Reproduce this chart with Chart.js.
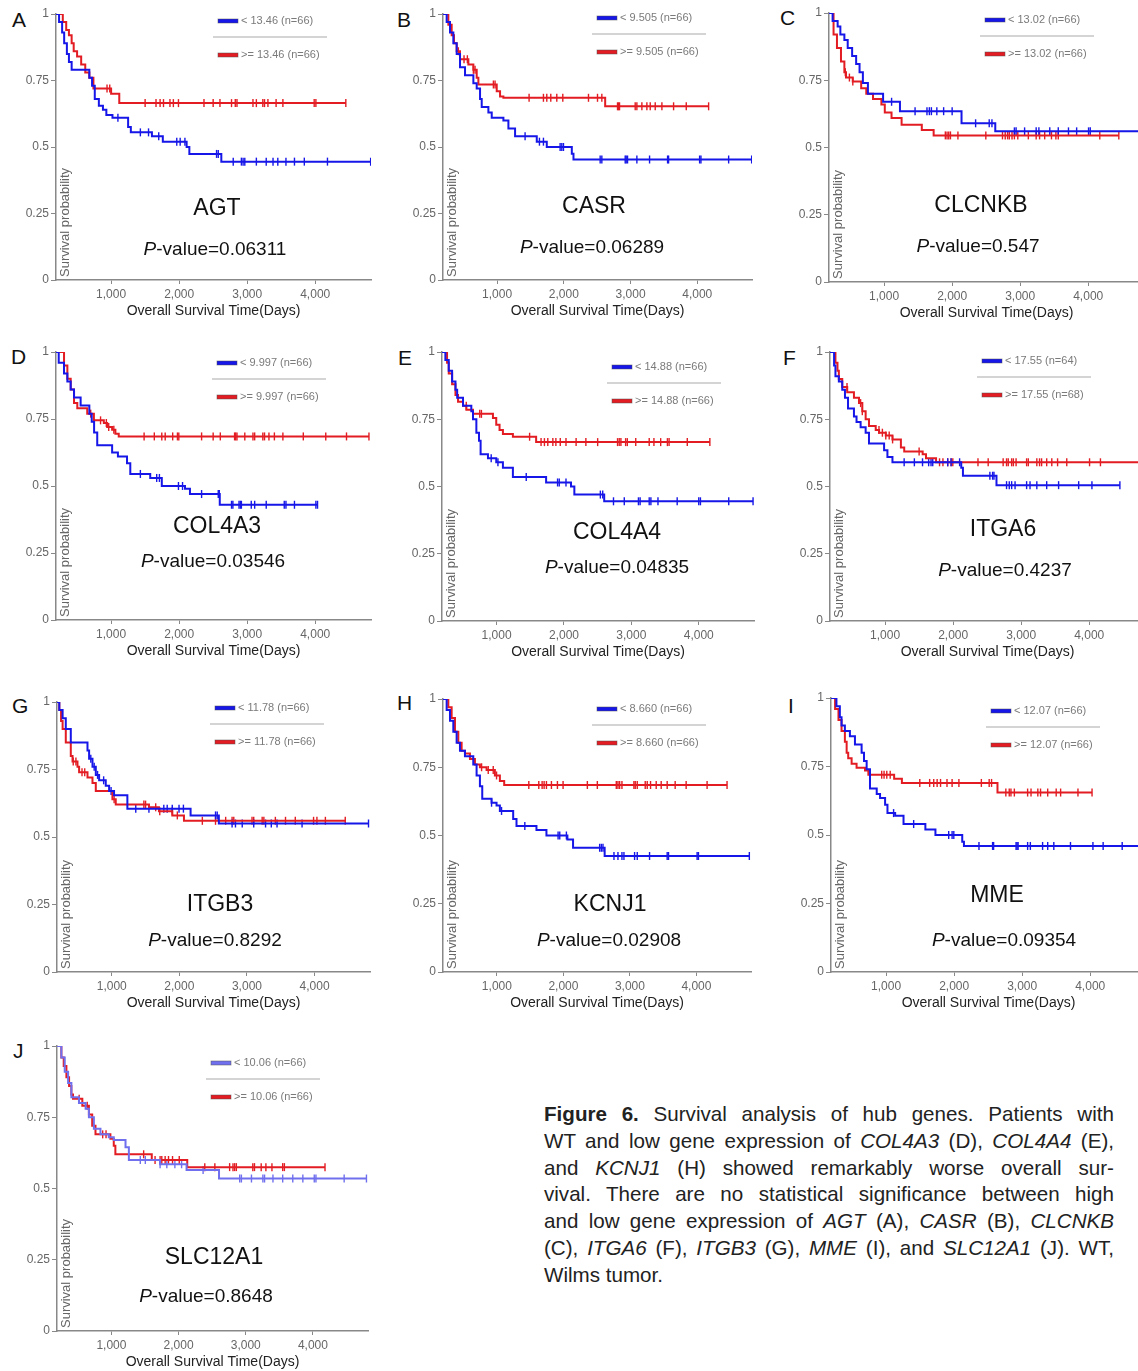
<!DOCTYPE html>
<html>
<head>
<meta charset="utf-8">
<script src="https://cdn.jsdelivr.net/npm/chart.js@4.4.1/dist/chart.umd.min.js"></script>
<style>
  html, body { margin: 0; padding: 0; background: #fff; width: 1138px; height: 1371px; overflow: hidden; position: relative; font-family: "Liberation Sans", Arial, sans-serif; }
  canvas { position: absolute; }
  .tag { position: absolute; font-size: 21px; line-height: 1; color: #111; }
  #caption { position: absolute; left: 544px; top: 1101px; width: 570px; font-size: 20.6px; line-height: 26.8px; color: #222; }
  #caption .ln { white-space: nowrap; text-align: justify; text-align-last: justify; }
  #caption .ln.last { text-align-last: left; }
</style>
</head>
<body>
<div id="caption">
  <div class="ln"><b>Figure 6.</b> Survival analysis of hub genes. Patients with</div>
  <div class="ln">WT and low gene expression of <i>COL4A3</i> (D), <i>COL4A4</i> (E),</div>
  <div class="ln">and <i>KCNJ1</i> (H) showed remarkably worse overall sur-</div>
  <div class="ln">vival. There are no statistical significance between high</div>
  <div class="ln">and low gene expression of <i>AGT</i> (A), <i>CASR</i> (B), <i>CLCNKB</i></div>
  <div class="ln">(C), <i>ITGA6</i> (F), <i>ITGB3</i> (G), <i>MME</i> (I), and <i>SLC12A1</i> (J). WT,</div>
  <div class="ln last">Wilms tumor.</div>
</div>
<script>
Chart.defaults.font.family = '"Liberation Sans", Arial, sans-serif';

// axis ticks and range (days / probability)
const xTicks = [1000, 2000, 3000, 4000];
const yTicks = [0, 0.25, 0.5, 0.75, 1];
const X_MIN = 190, X_MAX = 4820;

const genes = ['AGT', 'CASR', 'CLCNKB', 'COL4A3', 'COL4A4', 'ITGA6', 'ITGB3', 'KCNJ1', 'MME', 'SLC12A1'];
const pValues = ['0.06311', '0.06289', '0.547', '0.03546', '0.04835', '0.4237', '0.8292', '0.02908', '0.09354', '0.8648'];
const cutoffs = ['13.46', '9.505', '13.02', '9.997', '14.88', '17.55', '11.78', '8.660', '12.07', '10.06'];
const nLow = [66, 66, 66, 66, 66, 64, 66, 66, 66, 66];
const nHigh = [66, 66, 66, 66, 66, 68, 66, 66, 66, 66];

// Kaplan-Meier curves: [day, survival] where survival drops at that day
const agtLow = [[190,1],[235,0.97],[280,0.93],[310,0.89],[350,0.85],[380,0.82],[420,0.79],[680,0.76],[720,0.73],[760,0.68],[820,0.655],[880,0.64],[930,0.62],[1020,0.61],[1250,0.575],[1290,0.555],[1600,0.54],[1760,0.52],[2110,0.50],[2150,0.474],[2620,0.445],[4820,0.445]];
const agtLowCens = [1100,1430,1550,1700,1965,2015,2085,2550,2575,2795,2915,2940,2965,3135,3280,3380,3450,3570,3695,3840,4180,4815];
const agtHigh = [[190,1],[290,0.97],[340,0.94],[380,0.92],[420,0.89],[450,0.86],[500,0.84],[560,0.81],[620,0.78],[680,0.76],[740,0.72],[1000,0.70],[1120,0.665],[4450,0.665]];
const agtHighCens = [940,980,1500,1660,1720,1770,1865,1915,1990,2365,2500,2600,2770,2825,2850,3085,3135,3230,3255,3305,3425,3525,3985,4010,4450];

const casrLow = [[190,1],[245,0.97],[295,0.93],[345,0.89],[395,0.85],[445,0.80],[520,0.77],[645,0.74],[695,0.72],[745,0.68],[770,0.65],[870,0.63],[920,0.61],[1095,0.60],[1170,0.57],[1270,0.54],[1595,0.52],[1745,0.50],[2120,0.475],[2145,0.453],[4820,0.453]];
const casrLowCens = [1420,1635,1695,1945,1970,1995,2545,2570,2920,2935,2955,3095,3285,3555,3570,4035,4055,4470,4815];
const casrHigh = [[190,1],[270,0.96],[320,0.92],[355,0.89],[395,0.86],[445,0.83],[570,0.81],[645,0.79],[695,0.76],[720,0.735],[995,0.71],[1045,0.69],[1095,0.685],[2620,0.653],[4170,0.653]];
const casrHighCens = [420,505,555,645,670,945,970,1480,1695,1745,1805,1895,1985,2370,2505,2570,2805,2820,2835,3070,3095,3170,3245,3295,3370,3470,3645,3835,4170];

const clcnkbLow = [[190,1],[243,0.97],[317,0.95],[357,0.92],[416,0.90],[465,0.87],[530,0.84],[589,0.81],[639,0.78],[688,0.74],[762,0.70],[985,0.67],[1233,0.635],[2138,0.59],[2634,0.56],[4820,0.56]];
const clcnkbLowCens = [1110,1455,1630,1665,1695,1775,1875,2000,2345,2545,2585,2915,2940,3065,3235,3275,3435,3560,3710,3830,4005,4030];
const clcnkbHigh = [[190,1],[257,0.92],[307,0.87],[366,0.82],[416,0.78],[440,0.76],[539,0.745],[663,0.72],[738,0.70],[837,0.68],[960,0.66],[1010,0.63],[1109,0.61],[1257,0.585],[1554,0.565],[1728,0.545],[4450,0.545]];
const clcnkbHighCens = [430,490,540,1900,1925,1950,1975,2085,2495,2740,2780,2815,2840,2880,2915,2965,3120,3235,3285,3360,3460,3525,3560,4170,4450];

const col4a3Low = [[190,1],[230,0.96],[308,0.92],[357,0.89],[406,0.86],[455,0.83],[552,0.80],[680,0.77],[715,0.74],[750,0.70],[796,0.652],[1015,0.625],[1100,0.61],[1234,0.585],[1282,0.545],[1575,0.53],[1745,0.50],[2086,0.49],[2159,0.47],[2597,0.43],[4034,0.43]];
const col4a3LowCens = [1430,1670,1710,1990,2050,2330,2575,2590,2770,2790,2880,2900,2915,3060,3110,3280,3545,3570,3695,4010,4034];
const col4a3High = [[190,1],[308,0.95],[357,0.90],[406,0.86],[455,0.81],[503,0.79],[649,0.77],[747,0.745],[893,0.735],[942,0.72],[1015,0.71],[1063,0.695],[1112,0.685],[4790,0.685]];
const col4a3HighCens = [700,845,930,965,1040,1485,1635,1745,1795,1905,1975,1995,2330,2500,2605,2815,2830,2850,2965,3085,3110,3230,3255,3320,3400,3525,3825,4155,4460,4790];

const col4a4Low = [[190,1],[240,0.97],[290,0.93],[340,0.89],[390,0.86],[415,0.83],[502,0.80],[625,0.78],[650,0.75],[700,0.70],[739,0.67],[763,0.62],[872,0.605],[995,0.59],[1094,0.57],[1242,0.535],[1735,0.515],[2104,0.50],[2154,0.47],[2597,0.445],[4806,0.445]];
const col4a4LowCens = [920,1020,1440,1905,1930,2030,2540,2575,2735,2895,3105,3130,3265,3290,3395,3680,4000,4025,4445,4806];
const col4a4High = [[190,1],[265,0.96],[290,0.92],[340,0.88],[390,0.84],[428,0.815],[502,0.80],[552,0.785],[650,0.77],[946,0.755],[995,0.73],[1044,0.71],[1094,0.695],[1242,0.685],[1587,0.665],[4165,0.665]];
const col4a4HighCens = [550,750,775,1490,1660,1710,1760,1835,1880,1945,2030,2180,2325,2500,2795,2820,2845,2915,2940,3065,3265,3335,3435,3535,3560,3830,4165];

const itga6Low = [[190,1],[250,0.95],[270,0.91],[320,0.89],[370,0.86],[410,0.83],[455,0.79],[542,0.76],[580,0.74],[640,0.72],[714,0.70],[763,0.66],[985,0.635],[1034,0.61],[1108,0.59],[2119,0.57],[2144,0.54],[2637,0.505],[4451,0.505]];
const itga6LowCens = [1280,1430,1550,1640,1675,1700,1920,1970,2095,2540,2580,2600,2785,2825,2860,2910,3080,3130,3230,3375,3550,3845,4040,4451];
const itga6High = [[190,1],[270,0.96],[300,0.93],[320,0.90],[370,0.87],[443,0.85],[542,0.83],[616,0.81],[665,0.78],[714,0.75],[763,0.725],[862,0.71],[911,0.70],[1010,0.69],[1108,0.675],[1232,0.645],[1281,0.63],[1552,0.62],[1601,0.605],[1749,0.59],[4820,0.59]];
const itga6HighCens = [440,640,665,910,960,1010,1060,1110,1500,1800,1850,1920,1970,1995,2365,2515,2735,2785,2810,2860,2885,2925,3080,3105,3230,3270,3300,3375,3450,3535,3670,4005,4165];

const itgb3Low = [[190,1],[224,0.97],[273,0.94],[320,0.90],[394,0.85],[641,0.82],[665,0.79],[715,0.76],[764,0.73],[813,0.71],[911,0.69],[961,0.67],[1034,0.655],[1231,0.605],[2166,0.58],[2584,0.55],[4798,0.55]];
const itgb3LowCens = [690,740,790,880,990,1355,1550,1770,1820,1895,1995,2060,2535,2560,2780,2830,2930,3100,3275,3360,3445,3815,4798];
const itgb3High = [[190,1],[224,0.97],[250,0.93],[273,0.90],[320,0.85],[394,0.80],[420,0.78],[493,0.76],[517,0.74],[641,0.72],[715,0.70],[764,0.67],[1010,0.64],[1059,0.62],[1551,0.61],[1698,0.595],[1896,0.58],[2068,0.56],[4454,0.56]];
const itgb3HighCens = [430,470,560,600,1035,1475,1500,1650,1710,1895,1970,2340,2535,2685,2780,2805,3075,3100,3225,3250,3420,3570,3715,3985,4035,4160,4454];

const kcnj1Low = [[190,1],[245,0.96],[295,0.92],[345,0.88],[395,0.84],[445,0.81],[520,0.79],[645,0.76],[695,0.72],[745,0.68],[780,0.635],[920,0.62],[995,0.61],[1045,0.59],[1245,0.56],[1295,0.535],[1595,0.52],[1745,0.50],[2060,0.485],[2145,0.455],[2620,0.425],[4795,0.425]];
const kcnj1LowCens = [920,1070,1420,1920,1945,2045,2545,2570,2595,2760,2820,2880,2910,3070,3110,3295,3560,3580,4010,4030,4795];
const kcnj1High = [[190,1],[270,0.97],[320,0.93],[370,0.88],[420,0.84],[470,0.81],[520,0.80],[595,0.78],[670,0.76],[745,0.75],[845,0.74],[970,0.72],[1045,0.70],[1110,0.685],[4460,0.685]];
const kcnj1HighCens = [770,870,945,995,1480,1630,1680,1710,1745,1820,1910,1995,2360,2510,2795,2820,2845,2880,3060,3080,3110,3230,3260,3310,3395,3470,3560,3680,3845,4160,4460];

const mmeLow = [[190,1],[270,0.97],[320,0.93],[345,0.90],[394,0.88],[468,0.86],[542,0.83],[640,0.80],[675,0.77],[714,0.74],[763,0.67],[862,0.65],[911,0.635],[985,0.61],[1020,0.58],[1133,0.57],[1256,0.54],[1577,0.52],[1725,0.50],[2119,0.475],[2144,0.46],[4820,0.46]];
const mmeLowCens = [1110,1405,1920,1970,1995,2365,2565,2580,2910,2925,2940,3080,3120,3300,3375,3465,3710,4040,4190,4470];
const mmeHigh = [[190,1],[250,0.96],[300,0.92],[345,0.88],[394,0.84],[420,0.80],[443,0.78],[493,0.76],[566,0.745],[690,0.735],[739,0.72],[1118,0.705],[1232,0.69],[2637,0.655],[4027,0.655]];
const mmeHighCens = [935,970,1010,1060,1495,1640,1700,1750,1800,1895,1970,2070,2400,2515,2550,2760,2810,2835,2885,3080,3130,3230,3270,3375,3500,3565,3820,4027];

const slc12a1Low = [[190,1],[255,0.96],[305,0.91],[355,0.87],[404,0.82],[517,0.80],[616,0.78],[665,0.75],[739,0.71],[837,0.69],[961,0.68],[1035,0.67],[1210,0.645],[1260,0.60],[1725,0.585],[2119,0.565],[2602,0.535],[4797,0.535]];
const slc12a1LowCens = [1430,1505,1725,1825,1945,2045,2365,2910,2935,3085,3255,3280,3405,3550,3700,3850,4020,4045,4465,4797];
const slc12a1High = [[190,1],[255,0.96],[290,0.93],[330,0.89],[370,0.86],[404,0.83],[428,0.815],[567,0.79],[665,0.76],[714,0.72],[763,0.69],[985,0.675],[1035,0.65],[1059,0.62],[1601,0.60],[2129,0.575],[4180,0.575]];
const slc12a1HighCens = [520,640,870,920,1480,1650,1725,1750,1800,1850,1910,2010,2390,2540,2760,2810,2835,2860,3105,3130,3230,3300,3390,3550,3575,4180];

const lowCurves = [agtLow, casrLow, clcnkbLow, col4a3Low, col4a4Low, itga6Low, itgb3Low, kcnj1Low, mmeLow, slc12a1Low];
const lowCens = [agtLowCens, casrLowCens, clcnkbLowCens, col4a3LowCens, col4a4LowCens, itga6LowCens, itgb3LowCens, kcnj1LowCens, mmeLowCens, slc12a1LowCens];
const highCurves = [agtHigh, casrHigh, clcnkbHigh, col4a3High, col4a4High, itga6High, itgb3High, kcnj1High, mmeHigh, slc12a1High];
const highCens = [agtHighCens, casrHighCens, clcnkbHighCens, col4a3HighCens, col4a4HighCens, itga6HighCens, itgb3HighCens, kcnj1HighCens, mmeHighCens, slc12a1HighCens];

// page layout: plot box (px) and label offsets relative to plot box
const panels = [
  {letter: 'A', tag: [12, 9],    L: 56,  T: 14,   R: 371,  B: 280,  leg: [162, 7],  gene: [161, 195], pv: [159, 236]},
  {letter: 'B', tag: [397, 9],   L: 443, T: 14,   R: 752,  B: 280,  leg: [154, 4],  gene: [151, 193], pv: [149, 234]},
  {letter: 'C', tag: [780, 7],   L: 829, T: 13,   R: 1144, B: 282,  leg: [156, 7],  gene: [152, 193], pv: [149, 234]},
  {letter: 'D', tag: [11, 346],  L: 56,  T: 352,  R: 371,  B: 620,  leg: [161, 11], gene: [161, 175], pv: [157, 210]},
  {letter: 'E', tag: [398, 347], L: 442, T: 352,  R: 754,  B: 621,  leg: [170, 15], gene: [175, 181], pv: [175, 216]},
  {letter: 'F', tag: [783, 347], L: 830, T: 352,  R: 1145, B: 621,  leg: [152, 9],  gene: [173, 178], pv: [175, 219]},
  {letter: 'G', tag: [12, 695],  L: 57,  T: 702,  R: 370,  B: 972,  leg: [158, 6],  gene: [163, 203], pv: [158, 239]},
  {letter: 'H', tag: [397, 692], L: 443, T: 699,  R: 751,  B: 972,  leg: [154, 10], gene: [167, 206], pv: [166, 242]},
  {letter: 'I', tag: [788, 695], L: 831, T: 698,  R: 1146, B: 972,  leg: [160, 13], gene: [166, 198], pv: [173, 243]},
  {letter: 'J', tag: [13, 1040], L: 57,  T: 1046, R: 368,  B: 1331, leg: [154, 17], gene: [157, 212], pv: [149, 251]}
];

const BLUE = 'rgb(22,22,232)';
const BLUE_LIGHT = 'rgb(112,112,238)';
const RED = 'rgb(226,28,34)';

function survAt(curve, t) {
  let s = curve[0][1];
  for (const [ti, si] of curve) {
    if (ti <= t) s = si; else break;
  }
  return s;
}

const kmText = {
  id: 'kmText',
  afterDatasetsDraw(chart, args, o) {
    const {ctx, chartArea: a} = chart;
    ctx.save();
    // y axis label, inside the plot
    ctx.save();
    ctx.translate(a.left + 9, a.bottom - 3);
    ctx.rotate(-Math.PI / 2);
    ctx.font = '13px "Liberation Sans"';
    ctx.fillStyle = '#666';
    ctx.textAlign = 'left';
    ctx.textBaseline = 'middle';
    ctx.fillText('Survival probability', 0, 0);
    ctx.restore();

    // gene name
    ctx.fillStyle = '#111';
    ctx.textAlign = 'center';
    ctx.textBaseline = 'middle';
    ctx.font = '23px "Liberation Sans"';
    ctx.fillText(o.gene, a.left + o.genePos[0], a.top + o.genePos[1]);

    // P-value with italic P
    const fi = 'italic 19px "Liberation Sans"', fn = '19px "Liberation Sans"';
    const rest = '-value=' + o.p;
    ctx.font = fi; const w1 = ctx.measureText('P').width;
    ctx.font = fn; const w2 = ctx.measureText(rest).width;
    let x0 = a.left + o.pvPos[0] - (w1 + w2) / 2;
    const py = a.top + o.pvPos[1];
    ctx.textAlign = 'left';
    ctx.font = fi; ctx.fillText('P', x0, py);
    ctx.font = fn; ctx.fillText(rest, x0 + w1, py);

    // legend
    const lx = a.left + o.leg[0], ly = a.top + o.leg[1];
    const rows = [[o.lowColor, '< ' + o.cut + ' (n=' + o.nLow + ')', ly], [RED, '>= ' + o.cut + ' (n=' + o.nHigh + ')', ly + 34]];
    ctx.strokeStyle = '#d4d4d4';
    ctx.lineWidth = 2;
    ctx.beginPath();
    ctx.moveTo(lx - 5, ly + 16);
    ctx.lineTo(lx + 109, ly + 16);
    ctx.stroke();
    ctx.font = '11px "Liberation Sans"';
    ctx.textBaseline = 'middle';
    for (const [col, txt, y] of rows) {
      ctx.fillStyle = col;
      ctx.fillRect(lx, y - 2, 20, 4);
      ctx.strokeStyle = 'rgba(80,80,80,0.6)';
      ctx.lineWidth = 0.8;
      ctx.strokeRect(lx, y - 2, 20, 4);
      ctx.fillStyle = '#7a7a7a';
      ctx.fillText(txt, lx + 23, y);
    }
    ctx.restore();
  }
};

panels.forEach((p, i) => {
  const tag = document.createElement('div');
  tag.className = 'tag';
  tag.textContent = p.letter;
  tag.style.left = p.tag[0] + 'px';
  tag.style.top = p.tag[1] + 'px';
  document.body.appendChild(tag);

  const padTop = 14, axisW = 56, axisH = 50, padRight = 8;
  const cv = document.createElement('canvas');
  cv.width = p.R - p.L + axisW + padRight;
  cv.height = p.B - p.T + padTop + axisH;
  cv.style.left = (p.L - axisW) + 'px';
  cv.style.top = (p.T - padTop) + 'px';
  document.body.appendChild(cv);

  const lowColor = i === 9 ? BLUE_LIGHT : BLUE;
  const low = lowCurves[i], high = highCurves[i];

  new Chart(cv, {
    type: 'line',
    data: {
      datasets: [
        {data: low.map(([x, y]) => ({x, y})), borderColor: lowColor, borderWidth: 2, stepped: true, pointRadius: 0, fill: false},
        {data: high.map(([x, y]) => ({x, y})), borderColor: RED, borderWidth: 2, stepped: true, pointRadius: 0, fill: false},
        {data: lowCens[i].map(t => ({x: t, y: survAt(low, t)})), showLine: false, pointStyle: 'line', rotation: 90, pointRadius: 4, borderColor: lowColor, borderWidth: 1.4},
        {data: highCens[i].map(t => ({x: t, y: survAt(high, t)})), showLine: false, pointStyle: 'line', rotation: 90, pointRadius: 4, borderColor: RED, borderWidth: 1.4}
      ]
    },
    options: {
      responsive: false,
      animation: false,
      events: [],
      layout: {padding: {top: padTop, right: padRight, left: 0, bottom: 0}},
      plugins: {
        legend: {display: false},
        tooltip: {enabled: false},
        kmText: {gene: genes[i], p: pValues[i], cut: cutoffs[i], nLow: nLow[i], nHigh: nHigh[i],
                 lowColor: lowColor, leg: p.leg, genePos: p.gene, pvPos: p.pv}
      },
      scales: {
        x: {
          type: 'linear', min: X_MIN, max: X_MAX,
          afterFit(s) { s.height = axisH; },
          afterBuildTicks(s) { s.ticks = xTicks.map(v => ({value: v})); },
          ticks: {color: '#666', font: {size: 12}, padding: 3, maxRotation: 0,
                  callback: v => v.toLocaleString('en-US')},
          grid: {drawOnChartArea: false, tickLength: 4, color: '#888'},
          border: {color: '#888', width: 1.5},
          title: {display: true, text: 'Overall Survival Time(Days)', color: '#222',
                  font: {size: 14}, padding: {top: 0, bottom: 10}}
        },
        y: {
          min: 0, max: 1,
          afterFit(s) { s.width = axisW; },
          afterBuildTicks(s) { s.ticks = yTicks.map(v => ({value: v})); },
          ticks: {color: '#666', font: {size: 12}, padding: 2, callback: v => String(v)},
          grid: {drawOnChartArea: false, tickLength: 5, color: '#888'},
          border: {color: '#888', width: 1.5}
        }
      }
    },
    plugins: [kmText]
  });
});
</script>
</body>
</html>
